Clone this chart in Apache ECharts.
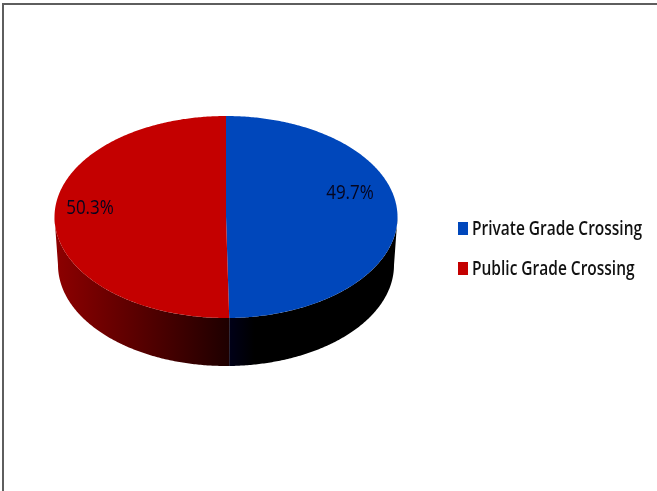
<!DOCTYPE html>
<html>
<head>
<meta charset="utf-8">
<style>html,body{margin:0;padding:0;background:#fff;overflow:hidden}#chart{width:657px;height:491px}</style>
<script src="https://cdn.jsdelivr.net/npm/echarts@6/dist/echarts.min.js"></script>
</head>
<body>
<div id="chart"></div>
<script>
// Share of crossing incidents by grade crossing type
const categories = ['Private Grade Crossing', 'Public Grade Crossing'];
const shares = [49.7, 50.3];

// Slice colours, and the left-to-right shading of each slice's wall
const topColors = ['#0047BB', '#C40000'];
const wallStops = [
  [[0, '#000018'], [0.15, '#000000'], [1, '#000000']],
  [[0, '#8E0000'], [1, '#1E0000']]
];

// Disc geometry: upper face, and the slightly narrower lower rim that gives the tilt
const disc = { cx: 226, cy: 217, rx: 171.5, ry: 101, rimRx: 168, rimCy: 265, rimRy: 101 };
const labelAnchors = [[350, 193], [90, 208]];
const legendLabelY = [230, 270];
const FONT = '"Open Sans", sans-serif';
const total = shares.reduce((a, b) => a + b, 0);
const RIGHT = Math.PI / 2, LEFT = Math.PI * 1.5;

function ellipsePoint(a, cx, cy, rx, ry) {
  return [cx + rx * Math.sin(a), cy - ry * Math.cos(a)];
}
function arc(from, to, cx, cy, rx, ry) {
  const pts = [], n = Math.max(2, Math.ceil(Math.abs(to - from) / 0.01));
  for (let i = 0; i <= n; i++) pts.push(ellipsePoint(from + (to - from) * i / n, cx, cy, rx, ry));
  return pts;
}

function renderSlice(index) {
  return function (params, api) {
    const value = api.value(0);
    let before = 0;
    for (let i = 0; i < index; i++) before += shares[i];
    const start = before / total * Math.PI * 2;
    const end = start + value / total * Math.PI * 2;
    const children = [];

    // Wall: only the part of the slice facing the viewer
    const wallFrom = Math.max(start, RIGHT), wallTo = Math.min(end, LEFT);
    if (wallTo > wallFrom) {
      const upper = arc(wallFrom, wallTo, disc.cx, disc.cy, disc.rx, disc.ry);
      const lower = arc(wallTo, wallFrom, disc.cx, disc.rimCy, disc.rimRx, disc.rimRy);
      const xs = upper.concat(lower).map(p => p[0]);
      const x0 = Math.min.apply(null, xs), x1 = Math.max.apply(null, xs);
      children.push({
        type: 'polygon',
        shape: { points: upper.concat(lower) },
        style: {
          fill: new echarts.graphic.LinearGradient(x0, 0, x1, 0,
            wallStops[index].map(s => ({ offset: s[0], color: s[1] })), true)
        }
      });
    }

    // Upper face
    children.push({
      type: 'polygon',
      z2: 2,
      shape: {
        points: [[disc.cx, disc.cy]].concat(arc(start, end, disc.cx, disc.cy, disc.rx, disc.ry))
      },
      style: { fill: topColors[index] }
    });

    // Value label, condensed horizontally
    children.push({
      type: 'text',
      z2: 5,
      x: labelAnchors[index][0],
      y: labelAnchors[index][1],
      scaleX: 0.85,
      style: {
        text: value.toFixed(1) + '%',
        fill: '#05051e',
        font: '20px ' + FONT,
        align: 'center',
        verticalAlign: 'middle'
      }
    });
    return { type: 'group', children };
  };
}

const chart = echarts.init(document.getElementById('chart'), null, { renderer: 'canvas' });
chart.setOption({
  animation: false,
  backgroundColor: '#ffffff',
  // Legend draws the swatches; its condensed captions are set as graphic text below
  legend: {
    orient: 'vertical',
    left: 458,
    top: 222,
    padding: 0,
    itemWidth: 10,
    itemHeight: 13,
    itemGap: 27,
    selectedMode: false,
    icon: 'rect',
    formatter: () => '',
    data: categories.map((name, i) => ({ name, itemStyle: { color: topColors[i] } }))
  },
  series: categories.map((name, i) => ({
    type: 'custom',
    name,
    coordinateSystem: 'none',
    silent: true,
    itemStyle: { color: topColors[i] },
    renderItem: renderSlice(i),
    data: [[shares[i]]]
  })),
  graphic: [{
    type: 'rect',
    silent: true,
    shape: { x: 3, y: 4, width: 700, height: 540 },
    style: { fill: 'none', stroke: '#5e5e5e', lineWidth: 2 }
  }].concat(categories.map((name, i) => ({
    type: 'text',
    silent: true,
    x: 472,
    y: legendLabelY[i],
    scaleX: 0.815,
    style: {
      text: name,
      fill: '#111',
      font: '600 19px ' + FONT,
      align: 'left',
      verticalAlign: 'middle'
    }
  })))
});
</script>
</body>
</html>
